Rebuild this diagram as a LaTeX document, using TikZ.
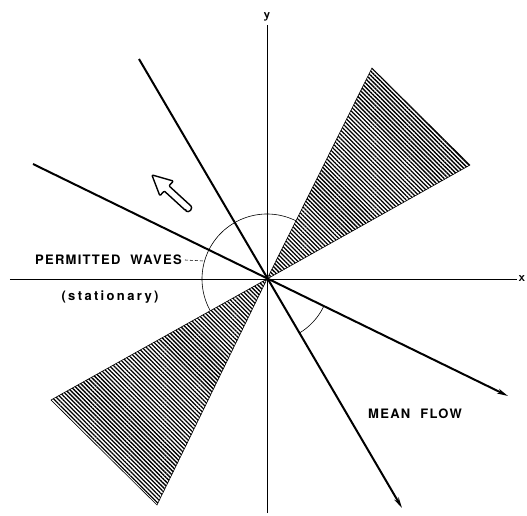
\documentclass[tikz,border=0pt]{standalone}
\usepackage{fontspec}
\newfontfamily\labfont[LetterSpace=10]{TeX Gyre Heros}
\newfontfamily\labfontwide[LetterSpace=18]{TeX Gyre Heros}
\usetikzlibrary{arrows.meta,patterns.meta}
\begin{document}
\begin{tikzpicture}[x=1pt,y=1pt,
  axis/.style={line width=0.8pt},
  flow/.style={line width=2pt,-{Stealth[length=11pt,width=5pt]}},
  wedge/.style={draw,line width=0.6pt,pattern={Lines[angle=135,distance=3pt,line width=1.3pt]}},
  thinarc/.style={line width=0.6pt},
  axlab/.style={font=\sffamily\bfseries\fontsize{13}{15}\selectfont,inner sep=1pt},
  lab/.style={font=\labfont\bfseries\fontsize{13}{15}\selectfont,inner sep=0pt},
  labw/.style={font=\labfontwide\bfseries\fontsize{13}{15}\selectfont,inner sep=0pt}]
\useasboundingbox (-267,-236) rectangle (260,279);
\coordinate (O) at (0,0);
% wedges
\filldraw[wedge] (O) -- (105,211) -- (203,114) -- cycle;
\filldraw[wedge] (O) -- (-216,-121) -- (-110,-226) -- cycle;
% axes
\coordinate (xl) at (-257,0);
\coordinate (xr) at (250,0);
\coordinate (yb) at (0,-234);
\coordinate (yt) at (0,254);
\draw[axis] (xl) -- (xr);
\draw[axis] (yb) -- (yt);
\node[axlab,anchor=south] (ylab) at (0,257) {y};
\node[axlab,anchor=west,inner sep=0.5pt] (xlab) at (251,0.5) {x};
% lines through origin with arrows
\coordinate (S1) at (-128,220);
\coordinate (E1) at (135,-229);
\coordinate (S2) at (-234,115);
\coordinate (E2) at (241,-117);
\draw[flow] (S1) -- (E1);
\draw[flow] (S2) -- (E2);
% arcs
\draw[thinarc] (63.5:65) arc[start angle=63.5,end angle=209.3,radius=65];
\draw[thinarc] (-26:63) arc[start angle=-26,end angle=-59.5,radius=63];
% labels
\node[lab,anchor=east] (pw) at (-85,19) {PERMITTED\hspace{5pt} WAVES};
\coordinate (pwend) at (-63,18);
\draw[line width=0.6pt,dash pattern=on 3pt off 2pt] (pw.east) ++(3,0) -- (pwend);
\node[labw] (st) at (-157,-18) {(stationary)};
\node[lab] (mf) at (148,-135) {MEAN\hspace{5pt} FLOW};
% hollow arrow
\begin{scope}[shift={(-79,71)},rotate=137.5]
\draw[line width=1.4pt,line join=round,rounded corners=1pt]
  (0,3.5) -- (29,3.5) -- (29,10) -- (49,0) -- (29,-10) -- (29,-3.5) -- (0,-3.5)
  arc[start angle=-90,end angle=-270,radius=3.5] -- cycle;
\end{scope}
\end{tikzpicture}
\end{document}
